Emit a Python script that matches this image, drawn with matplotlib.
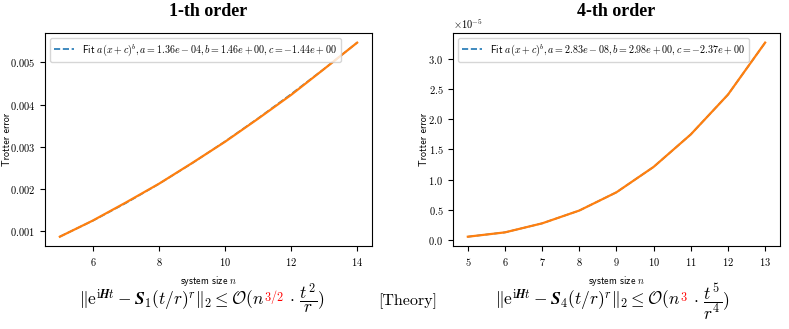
import matplotlib
matplotlib.use("Agg")
import matplotlib.pyplot as plt

plt.rcParams['font.family'] = 'serif'
plt.rcParams['font.serif'] = ['cmr10', 'DejaVu Serif']
plt.rcParams['mathtext.fontset'] = 'cm'
plt.rcParams['axes.formatter.use_mathtext'] = True
plt.rcParams['axes.unicode_minus'] = False

# system sizes
n1 = [5, 6, 7, 8, 9, 10, 11, 12, 13, 14]
n4 = [5, 6, 7, 8, 9, 10, 11, 12, 13]

# measured trotter error
err1 = [0.000866, 0.001250, 0.001678, 0.002122, 0.002612, 0.003118,
        0.003665, 0.004230, 0.004845, 0.005470]
err4 = [0.055e-5, 0.127e-5, 0.276e-5, 0.488e-5, 0.790e-5, 1.210e-5,
        1.747e-5, 2.405e-5, 3.265e-5]

# fitted curves a(x+c)^b
fit1 = [0.000868, 0.001246, 0.001665, 0.002120, 0.002607, 0.003125,
        0.003673, 0.004248, 0.004847, 0.005471]
fit4 = [0.055e-5, 0.127e-5, 0.276e-5, 0.488e-5, 0.790e-5, 1.210e-5,
        1.747e-5, 2.405e-5, 3.264e-5]

fit1_label = r'Fit $a(x+c)^b, a=1.36e-04, b=1.46e+00, c=-1.44e+00$'
fit4_label = r'Fit $a(x+c)^b, a=2.83e-08, b=2.98e+00, c=-2.37e+00$'

fig = plt.figure(figsize=(7.89, 3.29), dpi=100)
ax1 = fig.add_axes([0.057, 0.251, 0.4145, 0.649])
ax2 = fig.add_axes([0.5741, 0.251, 0.4145, 0.649])

sans = {'family': 'cmss10', 'size': 7.2}

for ax, n, err, fit, lab, title in [
        (ax1, n1, err1, fit1, fit1_label, '1-th order'),
        (ax2, n4, err4, fit4, fit4_label, '4-th order')]:
    ax.plot(n, fit, '--', color='C0', lw=1.2, label=lab)
    ax.plot(n, err, '-', color='C1', lw=1.6)
    ax.legend(loc='upper left', prop={'family': 'cmss10', 'size': 7.2})
    ax.set_xlabel(r'system size $n$', fontdict=sans)
    ax.set_ylabel('Trotter error', fontdict=sans)
    ax.set_title(title, fontsize=13, fontweight='bold',
                 family='Liberation Serif', pad=12)
    ax.tick_params(labelsize=7.5)

ax1.yaxis.set_label_coords(-0.1, 0.5)
ax2.yaxis.set_label_coords(-0.072, 0.5)
ax2.set_xticks(n4)
ax2.yaxis.get_offset_text().set_fontsize(7.5)


def colored_formula(xc, y, parts, size=12.5):
    renderer = fig.canvas.get_renderer()
    texts = [fig.text(0, y, s, color=c, fontsize=size, ha='left',
                      va='baseline') for s, c in parts]
    widths = [t.get_window_extent(renderer).width for t in texts]
    x = xc * fig.bbox.width - sum(widths) / 2
    for t, w in zip(texts, widths):
        t.set_x(x / fig.bbox.width)
        x += w


lhs1 = r'$\|\mathrm{e}^{\mathrm{i}\boldsymbol{H}t}-\boldsymbol{S}_1(t/r)^r\|_2\leq\mathcal{O}(n$'
lhs4 = r'$\|\mathrm{e}^{\mathrm{i}\boldsymbol{H}t}-\boldsymbol{S}_4(t/r)^r\|_2\leq\mathcal{O}(n$'
colored_formula(0.256, 0.072, [(lhs1, 'black'), (r'${}^{3/2}$', 'red'),
                               (r'$\,\cdot\,\dfrac{t^2}{r})$', 'black')])
colored_formula(0.776, 0.072, [(lhs4, 'black'), (r'${}^{3}$', 'red'),
                               (r'$\,\cdot\,\dfrac{t^5}{r^4})$', 'black')])
fig.text(0.517, 0.072, '[Theory]', fontsize=11.5, ha='center', va='baseline')

fig.savefig('out.png', dpi=100)
